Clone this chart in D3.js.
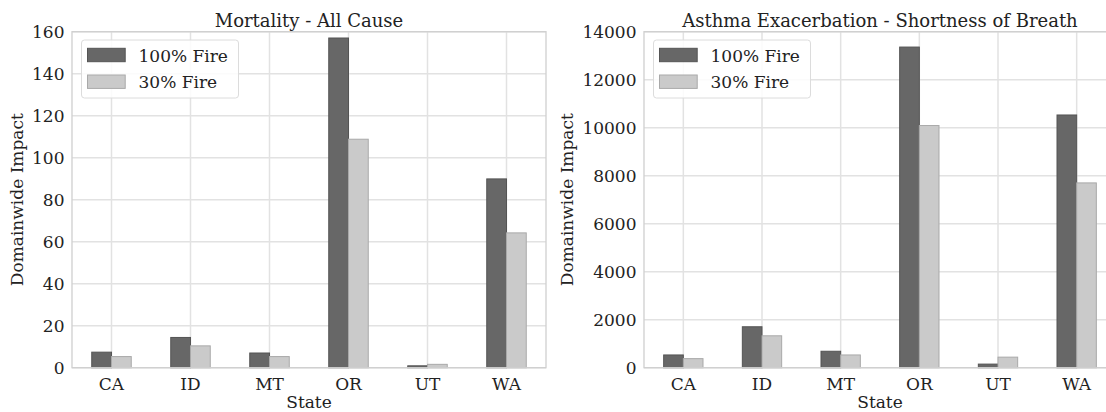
<!DOCTYPE html>
<html>
<head>
<meta charset="utf-8">
<script src="https://cdn.jsdelivr.net/npm/d3@7"></script>
<style>
  html, body { margin: 0; padding: 0; background: #fff; }
  svg { display: block; }
  text { font-family: "DejaVu Serif", serif; fill: #222; }
</style>
</head>
<body>
<svg id="chart" width="1106" height="412"></svg>
<script>
// Domain-wide health impacts per state under two fire scenarios
const states = ["CA", "ID", "MT", "OR", "UT", "WA"];
const seriesNames = ["100% Fire", "30% Fire"];

// Mortality - All Cause
const mortalityFull = [7.4, 14.4, 7.0, 157.0, 0.9, 89.9];
const mortalityReduced = [5.3, 10.4, 5.3, 108.8, 1.6, 64.2];
const mortalityTicks = [0, 20, 40, 60, 80, 100, 120, 140, 160];

// Asthma Exacerbation - Shortness of Breath
const asthmaFull = [531, 1706, 685, 13360, 150, 10530];
const asthmaReduced = [378, 1329, 531, 10090, 440, 7700];
const asthmaTicks = [0, 2000, 4000, 6000, 8000, 10000, 12000, 14000];

const panels = [
  { title: "Mortality - All Cause", values: [mortalityFull, mortalityReduced],
    ticks: mortalityTicks, max: 160, left: 72, right: 546, yLabelX: 23 },
  { title: "Asthma Exacerbation - Shortness of Breath", values: [asthmaFull, asthmaReduced],
    ticks: asthmaTicks, max: 14000, left: 644, right: 1116, yLabelX: 573 }
];

const colors = ["#676767", "#cacaca"];
const edges = ["#545454", "#a9a9a9"];
const plotTop = 31.7, plotBottom = 367.7;
const fontSize = 17;
const titleSize = 18;

const svg = d3.select("#chart");

panels.forEach(p => {
  const g = svg.append("g");

  const x = d3.scaleBand().domain(states).range([p.left, p.right])
    .paddingInner(0.5).paddingOuter(0.25);
  const xs = d3.scaleBand().domain(seriesNames).range([0, x.bandwidth()]);
  const y = d3.scaleLinear().domain([0, p.max]).range([plotBottom, plotTop]);

  // grid
  g.append("g").selectAll("line").data(p.ticks).join("line")
    .attr("x1", p.left).attr("x2", p.right)
    .attr("y1", d => y(d)).attr("y2", d => y(d))
    .attr("stroke", "#e2e2e2").attr("stroke-width", 1.5);
  g.append("g").selectAll("line").data(states).join("line")
    .attr("x1", d => x(d) + x.bandwidth() / 2).attr("x2", d => x(d) + x.bandwidth() / 2)
    .attr("y1", plotTop).attr("y2", plotBottom)
    .attr("stroke", "#e2e2e2").attr("stroke-width", 1.5);

  // bars
  seriesNames.forEach((s, si) => {
    g.append("g").selectAll("rect").data(states).join("rect")
      .attr("x", d => x(d) + xs(s))
      .attr("width", xs.bandwidth())
      .attr("y", (d, i) => y(p.values[si][i]))
      .attr("height", (d, i) => plotBottom - y(p.values[si][i]))
      .attr("fill", colors[si])
      .attr("stroke", edges[si]).attr("stroke-width", 1);
  });

  // frame
  g.append("rect")
    .attr("x", p.left).attr("y", plotTop)
    .attr("width", p.right - p.left).attr("height", plotBottom - plotTop)
    .attr("fill", "none").attr("stroke", "#cfcfcf").attr("stroke-width", 1.3);

  // y axis
  const yAxis = g.append("g").attr("transform", `translate(${p.left},0)`)
    .call(d3.axisLeft(y).tickValues(p.ticks).tickSize(0).tickPadding(7.5).tickFormat(d3.format("d")));
  yAxis.select(".domain").remove();
  yAxis.selectAll("text").attr("font-size", fontSize).attr("dy", "0.36em")
    .style("font-family", "'DejaVu Serif', serif").attr("fill", "#222");

  // x axis
  const xAxis = g.append("g").attr("transform", `translate(0,${plotBottom})`)
    .call(d3.axisBottom(x).tickSize(0).tickPadding(10.6));
  xAxis.select(".domain").remove();
  xAxis.selectAll("text").attr("font-size", fontSize)
    .style("font-family", "'DejaVu Serif', serif").attr("fill", "#222");

  // titles and axis labels
  const cx = (p.left + p.right) / 2;
  g.append("text").attr("x", cx).attr("y", 27).attr("text-anchor", "middle")
    .attr("font-size", titleSize).text(p.title);
  g.append("text").attr("x", cx).attr("y", 408).attr("text-anchor", "middle")
    .attr("font-size", fontSize).text("State");
  g.append("text")
    .attr("transform", `translate(${p.yLabelX},${(plotTop + plotBottom) / 2}) rotate(-90)`)
    .attr("text-anchor", "middle").attr("font-size", fontSize).text("Domainwide Impact");

  // legend
  const lg = g.append("g").attr("transform", `translate(${p.left + 9.5},40)`);
  lg.append("rect").attr("width", 157).attr("height", 58).attr("rx", 3)
    .attr("fill", "#fff").attr("fill-opacity", 0.85)
    .attr("stroke", "#dcdcdc").attr("stroke-width", 1);
  seriesNames.forEach((s, si) => {
    const row = lg.append("g").attr("transform", `translate(6,${8.3 + si * 26.7})`);
    row.append("rect").attr("width", 37.7).attr("height", 13.4)
      .attr("fill", colors[si]).attr("stroke", edges[si]).attr("stroke-width", 1);
    row.append("text").attr("x", 51).attr("y", 13.4).attr("font-size", fontSize).text(s);
  });
});
</script>
</body>
</html>
